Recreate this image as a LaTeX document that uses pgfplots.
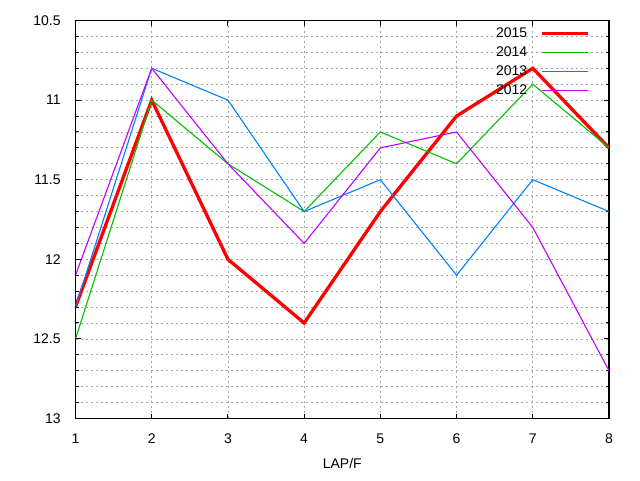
\documentclass[border=0pt]{standalone}
\usepackage{pgfplots}
\pgfplotsset{compat=1.18}
\usepackage{fontspec}
\setmainfont{Liberation Sans}
\definecolor{gred}{HTML}{FF0000}
\definecolor{ggreen}{HTML}{00C000}
\definecolor{gblue}{HTML}{0080FF}
\definecolor{gpurple}{HTML}{C000FF}
\begin{document}
\fontsize{14}{16}\selectfont
\begin{tikzpicture}[x=1pt,y=1pt]
\path (0,0) rectangle (640,480);
\begin{axis}[
  at={(75.5pt,61.5pt)}, anchor=south west,
  scale only axis, width=533.5pt, height=398pt,
  xmin=1, xmax=8, ymin=10.5, ymax=13, y dir=reverse,
  xtick={1,...,8},
  ytick={10.5,11,11.5,12,12.5,13},
  yticklabels={10.5,11,11.5,12,12.5,13},
  minor y tick num=4,
  tick align=inside,
  major tick length=5pt, minor tick length=3pt,
  axis line style={line width=1.2pt},
  every tick/.style={black, line width=1pt},
  grid=both,
  major grid style={gray!70, line width=0.8pt, dash pattern=on 2pt off 3pt},
  minor grid style={gray!70, line width=0.8pt, dash pattern=on 2pt off 3pt},
  /pgf/number format/assume math mode=true,
  tick label style={font=\fontsize{14}{16}\selectfont},
  yticklabel style={xshift=-10pt},
  xticklabel style={yshift=-10pt},
  xlabel={LAP/F},
  every axis x label/.style={at={(axis description cs:0.5,0)}, anchor=center, yshift=-44.5pt, font=\fontsize{14}{16}\selectfont},
  legend style={draw=none, fill=none, inner sep=0pt, at={(rel axis cs:0.9644,0.9832)}, anchor=north east,
    font=\fontsize{14}{16}\selectfont,
    nodes={inner sep=0pt, text height=10pt, text depth=0pt},
    row sep=9pt, column sep=13.3pt},
  legend cell align=right,
  legend plot pos=right,
  legend image code/.code={\draw[#1] (0pt,-1.3pt) -- (46pt,-1.3pt);},
  clip=true,
]
\addplot[gred, line width=3.3pt] coordinates {(1,12.3) (2,11.0) (3,12.0) (4,12.4) (5,11.7) (6,11.1) (7,10.8) (8,11.3)};
\addlegendentry{2015}
\addplot[ggreen, line width=1.1pt] coordinates {(1,12.5) (2,11.0) (3,11.4) (4,11.7) (5,11.2) (6,11.4) (7,10.9) (8,11.3)};
\addlegendentry{2014}
\addplot[gblue, line width=1.1pt] coordinates {(1,12.3) (2,10.8) (3,11.0) (4,11.7) (5,11.5) (6,12.1) (7,11.5) (8,11.7)};
\addlegendentry{2013}
\addplot[gpurple, line width=1.1pt] coordinates {(1,12.1) (2,10.8) (3,11.4) (4,11.9) (5,11.3) (6,11.2) (7,11.8) (8,12.7)};
\addlegendentry{2012}
\end{axis}
\end{tikzpicture}
\end{document}
